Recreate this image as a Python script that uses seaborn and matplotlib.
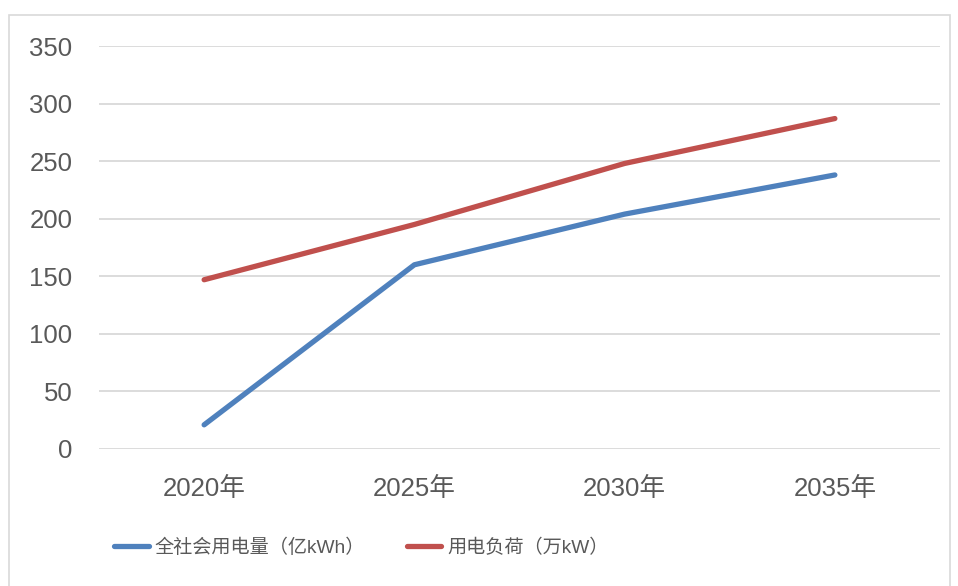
import pandas as pd
import seaborn as sns
import matplotlib.pyplot as plt
from matplotlib.patches import Rectangle

years = ["2020年", "2025年", "2030年", "2035年"]
consumption = [21, 160, 204, 238]   # 全社会用电量（亿kWh）
load = [147, 195, 248, 287]         # 用电负荷（万kW）
series_names = ["全社会用电量（亿kWh）", "用电负荷（万kW）"]
y_ticks = [0, 50, 100, 150, 200, 250, 300, 350]

df = pd.DataFrame({
    "year": years * 2,
    "value": consumption + load,
    "series": [series_names[0]] * 4 + [series_names[1]] * 4,
})

sns.set_style("white")
plt.rcParams['font.family'] = ['Liberation Sans', 'Noto Sans CJK SC', 'DejaVu Sans']

fig = plt.figure(figsize=(9.58, 5.86), dpi=100)
ax = fig.add_axes([99 / 958, 1 - 449 / 586, (940 - 99) / 958, (449 - 46) / 586])

sns.lineplot(data=df, x="year", y="value", hue="series", sort=False,
             palette=["#4F81BD", "#C0504D"], linewidth=3.8, ax=ax)

ax.set_xlim(-0.5, 3.5)
ax.set_ylim(0, 350)
ax.set_yticks(y_ticks)
ax.set_xlabel("")
ax.set_ylabel("")
ax.grid(axis="y", color="#D9D9D9", linewidth=1.3)
ax.grid(axis="x", visible=False)
ax.set_axisbelow(True)
for s in ax.spines.values():
    s.set_visible(False)
ax.tick_params(axis="y", length=0, pad=19, labelsize=18.5, labelcolor="#595959")
ax.tick_params(axis="x", length=0, pad=20, labelsize=18.5, labelcolor="#595959")

for line in ax.get_lines():
    line.set_solid_capstyle("round")

handles, labels = ax.get_legend_handles_labels()
leg = ax.legend(handles, labels, loc="center left",
                bbox_to_anchor=(114 / 958, 1 - 548 / 586),
                bbox_transform=fig.transFigure, ncol=2, frameon=False,
                fontsize=13.8, handlelength=1.8, handletextpad=0.3,
                columnspacing=2.2, borderaxespad=0, borderpad=0)
for t in leg.get_texts():
    t.set_color("#595959")
for h in leg.get_lines():
    h.set_linewidth(3.8)
    h.set_solid_capstyle("round")

fig.patches.append(Rectangle((9 / 958, -0.02), (950 - 9) / 958, 1.02 - 15 / 586,
                             transform=fig.transFigure, fill=False,
                             edgecolor="#D9D9D9", linewidth=1.2))

fig.savefig("out.png", dpi=100)
